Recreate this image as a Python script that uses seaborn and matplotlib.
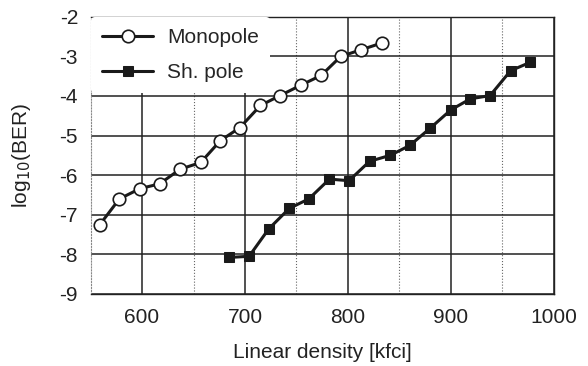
import numpy as np
import pandas as pd
import matplotlib
matplotlib.use("Agg")
import matplotlib.pyplot as plt
import seaborn as sns

# values
mono_x = [559, 578, 598, 617, 637, 657, 676, 695, 715, 734, 754, 774, 793, 813, 833]
mono_y = [-7.25, -6.6, -6.34, -6.22, -5.85, -5.68, -5.13, -4.8, -4.24, -3.99,
          -3.73, -3.48, -3.0, -2.83, -2.66]
sh_x = [684, 704, 723, 743, 762, 782, 801, 821, 841, 860, 880, 900, 919, 938, 958, 977]
sh_y = [-8.08, -8.05, -7.36, -6.84, -6.6, -6.1, -6.14, -5.65, -5.5, -5.25,
        -4.81, -4.35, -4.07, -3.99, -3.36, -3.15]

x_ticks = [600, 700, 800, 900, 1000]
y_ticks = [-9, -8, -7, -6, -5, -4, -3, -2]

sns.set_style("white")
plt.rcParams['font.family'] = ['Liberation Sans', 'DejaVu Sans']

fig = plt.figure(figsize=(5.88, 3.66), dpi=100)
ax = fig.add_axes([0.154, 0.197, 0.788, 0.757])

sns.lineplot(x=mono_x, y=mono_y, ax=ax, color="#1a1a1a", linewidth=2.2,
             marker="o", markersize=9, markerfacecolor="white",
             markeredgecolor="#1a1a1a", markeredgewidth=1.2, label="Monopole", zorder=3)
sns.lineplot(x=sh_x, y=sh_y, ax=ax, color="#1a1a1a", linewidth=2.2,
             marker="s", markersize=7.8, markerfacecolor="#1a1a1a",
             markeredgecolor="#1a1a1a", label="Sh. pole", zorder=3)

ax.set_xlim(550, 1000)
ax.set_ylim(-9, -2)
ax.set_xticks(x_ticks)
ax.set_xticks([650, 750, 850, 950], minor=True)
ax.set_yticks(y_ticks)
ax.set_yticklabels([str(v) for v in y_ticks])

ax.grid(which="major", color="#222222", linewidth=1.1, linestyle="-")
ax.grid(which="minor", axis="x", color="#666666", linewidth=0.8, linestyle=":")
ax.set_axisbelow(True)

ax.tick_params(axis="both", which="both", direction="in", length=5,
               labelsize=15, colors="#222222")
ax.tick_params(axis="x", pad=10)
ax.tick_params(axis="y", pad=9)
for side in ["top", "bottom", "right"]:
    ax.spines[side].set_color("#222222")
    ax.spines[side].set_linewidth(1.0)
ax.spines["left"].set_color("#888888")
ax.spines["left"].set_linestyle(":")

ax.set_xlabel("Linear density [kfci]", fontsize=15, color="#222222", labelpad=12)
ax.set_ylabel(r"log$_{10}$(BER)", fontsize=15, color="#222222", labelpad=19)

leg = ax.legend(loc="upper left", fontsize=15, frameon=True, facecolor="white",
                edgecolor="white", framealpha=1, borderaxespad=0.0,
                handlelength=2.45, handletextpad=0.67, borderpad=0.55, labelspacing=0.75)
leg.get_frame().set_linewidth(0)

fig.savefig("out.png", dpi=100)
